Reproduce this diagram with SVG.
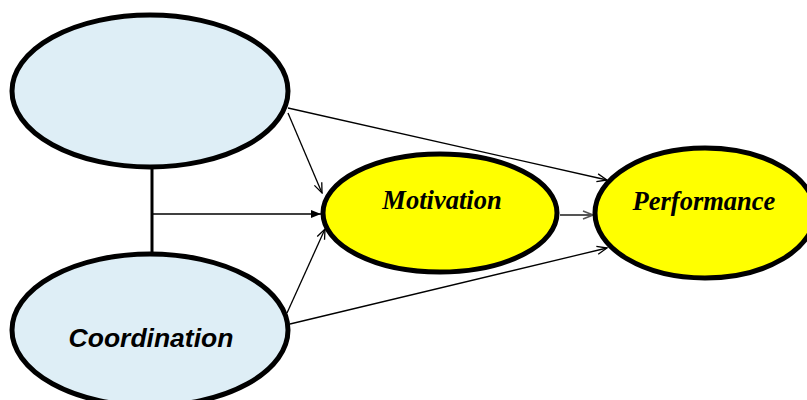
<svg xmlns="http://www.w3.org/2000/svg" width="807" height="400" viewBox="0 0 807 400">
<defs>
<style>
.blue{fill:#deeef6;stroke:#000;stroke-width:5}
.yel{fill:#ffff00;stroke:#000;stroke-width:5}
.lbl{font-family:"Liberation Serif",serif;font-weight:bold;font-style:italic;font-size:26.5px;fill:#000;text-anchor:middle}
.lbls{font-family:"Liberation Sans",sans-serif;font-weight:bold;font-style:italic;font-size:26.5px;fill:#000;text-anchor:middle}
.c{fill:none;stroke:#000;stroke-width:1.3}
</style>
<marker id="open" viewBox="0 0 12 10" refX="11" refY="5" markerWidth="12" markerHeight="10" markerUnits="userSpaceOnUse" orient="auto">
<path d="M1,1 L11,5 L1,9" fill="none" stroke="#000" stroke-width="1.3"/>
</marker>
<marker id="openg" viewBox="0 0 12 10" refX="11" refY="5" markerWidth="12" markerHeight="10" markerUnits="userSpaceOnUse" orient="auto">
<path d="M1,1 L11,5 L1,9" fill="none" stroke="#555" stroke-width="1.5"/>
</marker>
<marker id="fill" viewBox="0 0 10 8" refX="10" refY="4" markerWidth="10" markerHeight="8" markerUnits="userSpaceOnUse" orient="auto">
<path d="M0,0 L10,4 L0,8 Z" fill="#000"/>
</marker>
</defs>
<g id="connectors">
<line x1="152" y1="167" x2="152" y2="254" stroke="#000" stroke-width="3"/>
<line class="c" x1="152" y1="214" x2="321" y2="214" marker-end="url(#fill)"/>
<line class="c" x1="288" y1="108" x2="607" y2="180" marker-end="url(#open)"/>
<line class="c" x1="288" y1="113" x2="322" y2="193" marker-end="url(#open)"/>
<line class="c" x1="287" y1="313" x2="325" y2="229" marker-end="url(#open)"/>
<line class="c" x1="290" y1="324" x2="607" y2="248" marker-end="url(#open)"/>
<line x1="560" y1="215" x2="593" y2="215" stroke="#555" stroke-width="2" marker-end="url(#openg)"/>
</g>
<g id="node-top">
<ellipse class="blue" cx="150" cy="91" rx="138" ry="76"/>
</g>
<g id="node-coordination">
<ellipse class="blue" cx="150" cy="330" rx="138" ry="76"/>
<text class="lbls" x="151" y="347">Coordination</text>
</g>
<g id="node-motivation">
<ellipse class="yel" cx="440" cy="213" rx="117" ry="59"/>
<text class="lbl" x="442" y="209">Motivation</text>
</g>
<g id="node-performance">
<ellipse class="yel" cx="705" cy="213" rx="110" ry="65"/>
<text class="lbl" x="704" y="210">Performance</text>
</g>
</svg>
